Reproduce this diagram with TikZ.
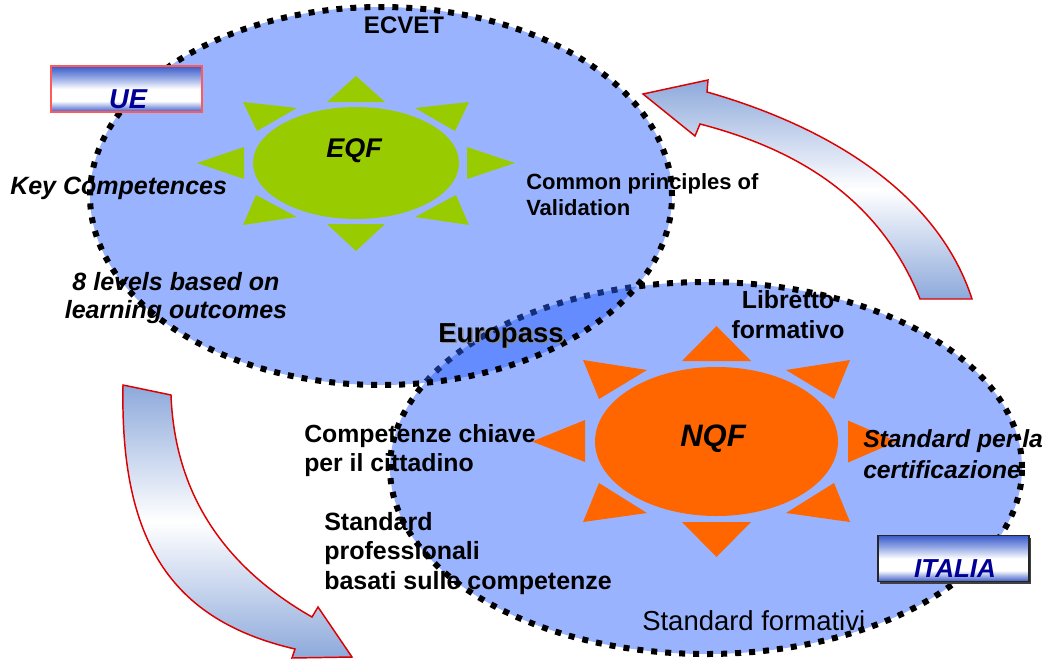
\documentclass[tikz,border=0pt]{standalone}
\usepackage{fontspec}
\setmainfont{Liberation Sans}
\usetikzlibrary{shapes.geometric,shadows}

\definecolor{ovalblue}{RGB}{42,97,255}
\definecolor{eqfgreen}{RGB}{153,204,0}
\definecolor{nqforange}{RGB}{255,102,0}
\definecolor{arrowblue}{RGB}{141,169,219}
\definecolor{arrowred}{RGB}{220,0,0}
\definecolor{boxblue}{RGB}{58,90,200}
\definecolor{boxmid}{RGB}{150,170,230}
\definecolor{flagnavy}{RGB}{0,0,150}
\definecolor{flagpink}{RGB}{255,90,90}

% blue -> white band -> blue, for the two flag boxes
\pgfdeclareverticalshading{flagshade}{100bp}{color(0bp)=(boxblue); color(25bp)=(boxblue); color(37bp)=(white); color(50bp)=(white); color(62bp)=(boxmid); color(75bp)=(boxblue); color(100bp)=(boxblue)}

\newcommand{\lblfont}[1]{\fontsize{#1}{#1}\selectfont\bfseries}

\tikzset{
  oval/.style={ellipse, inner sep=0pt, draw=black, line width=4.5pt,
    dash pattern=on 4.5pt off 6pt, fill=ovalblue, fill opacity=0.48, draw opacity=1},
  bentarrow/.style={draw=arrowred, line width=1.1pt, line join=miter,
    top color=arrowblue, bottom color=arrowblue, middle color=white},
  flagbox/.style={inner sep=0pt, minimum width=113.25pt, minimum height=34.5pt,
    shade, shading=flagshade, line width=1pt},
  lbl/.style={inner sep=0pt, text=black},
}

\begin{document}
\begin{tikzpicture}[x=0.75pt, y=-0.75pt]
\useasboundingbox (0,0) rectangle (1048,661);

% the two overlapping frameworks: Italy underneath, EU on top
\node[oval, minimum width=474pt, minimum height=279pt] (italia) at (706,468) {};
\node[oval, minimum width=436.5pt, minimum height=283.5pt] (ue) at (381,196) {};

% bent arrows between the two levels
\draw[bentarrow] (707,92) .. controls (840,130) and (940,200) .. (972,299)
  -- (920,299) .. controls (880,200) and (800,150) .. (700,124)
  -- (695,136) -- (643,94) -- (708,80) -- cycle;
\draw[bentarrow] (123,385) -- (171,395) .. controls (175,500) and (230,570) .. (312,617)
  -- (318,607) -- (352,657) -- (292,658) -- (295,649)
  .. controls (170,620) and (120,540) .. (123,385) -- cycle;

% EQF sun
\node[ellipse, inner sep=0pt, fill=eqfgreen, minimum width=154.5pt, minimum height=84pt] (eqf) at (356,163) {};
\begin{scope}[shift={(356,163)}, fill=eqfgreen]
  \fill (-29,-61) -- (29,-61) -- (0,-87) -- cycle;
  \fill (-29,61) -- (29,61) -- (0,88) -- cycle;
  \fill (-112,-16) -- (-112,16) -- (-159,0) -- cycle;
  \fill (111,-16) -- (111,16) -- (159,0) -- cycle;
  \fill (-113,-61) -- (-59,-55) -- (-99,-32) -- cycle;
  \fill (113,-61) -- (59,-55) -- (99,-32) -- cycle;
  \fill (-113,62) -- (-59,54) -- (-100,32) -- cycle;
  \fill (113,62) -- (59,54) -- (100,32) -- cycle;
\end{scope}

% NQF sun
\node[ellipse, inner sep=0pt, fill=nqforange, minimum width=182.25pt, minimum height=111.75pt] (nqf) at (716.5,441.5) {};
\begin{scope}[shift={(716.5,441.5)}, fill=nqforange]
  \fill (-34.5,-80.5) -- (34.5,-80.5) -- (0,-115.5) -- cycle;
  \fill (-34.5,80.5) -- (34.5,80.5) -- (0,115.5) -- cycle;
  \fill (-131.5,-21.5) -- (-131.5,20.5) -- (-184.5,0) -- cycle;
  \fill (131.5,-21) -- (131.5,21) -- (180,0) -- cycle;
  \fill (-133.5,-81.5) -- (-69.5,-71.5) -- (-117.5,-42.5) -- cycle;
  \fill (133.5,-81.5) -- (69.5,-71.5) -- (117.5,-42.5) -- cycle;
  \fill (-133.5,80.5) -- (-69.5,71.5) -- (-117.5,41.5) -- cycle;
  \fill (133.5,80.5) -- (69.5,71.5) -- (117.5,41.5) -- cycle;
\end{scope}

% flag boxes
\node[flagbox, draw=flagpink] (uebox) at (126.5,89) {};
\node[flagbox, draw=black!85, drop shadow={shadow xshift=1.5pt, shadow yshift=-1.5pt, fill=black!75, opacity=1}] (itbox) at (953.5,558.5) {};
\node[lbl, anchor=base, text=flagnavy, font=\lblfont{20.5pt}\itshape] (uetxt) at (128,108) {UE};
\node[lbl, anchor=base, text=flagnavy, font=\lblfont{19.5pt}\itshape] (ittxt) at (955,577) {ITALIA};

% framework labels
\node[lbl, anchor=base, font=\lblfont{20.25pt}\itshape] (eqftxt) at (354,157) {EQF};
\node[lbl, anchor=base, font=\lblfont{23.25pt}\itshape] (nqftxt) at (713,446) {NQF};

% EU side
\node[lbl, anchor=base, font=\lblfont{18pt}] (ecvet) at (404,33) {ECVET};
\node[lbl, anchor=base west, font=\lblfont{18.75pt}\itshape] (keyc) at (10,194) {Key Competences};
\node[lbl, anchor=base, font=\lblfont{18.75pt}\itshape] (lev1) at (176,290) {8 levels based on};
\node[lbl, anchor=base, font=\lblfont{18.75pt}\itshape] (lev2) at (176,318) {learning outcomes};
\node[lbl, anchor=base west, font=\lblfont{16.5pt}] (val1) at (526,189) {Common principles of};
\node[lbl, anchor=base west, font=\lblfont{16.5pt}] (val2) at (526,215) {Validation};

% shared
\node[lbl, anchor=base, text=black!45, font=\lblfont{20.6pt}] (europassshadow) at (502.5,343.5) {Europass};
\node[lbl, anchor=base, font=\lblfont{20.6pt}] (europass) at (501,342) {Europass};

% Italian side
\node[lbl, anchor=base, font=\lblfont{18.6pt}] (lib1) at (788,308) {Libretto};
\node[lbl, anchor=base, font=\lblfont{18.6pt}] (lib2) at (788,338) {formativo};
\node[lbl, anchor=base west, font=\lblfont{18.6pt}] (cc1) at (304,442) {Competenze chiave};
\node[lbl, anchor=base west, font=\lblfont{18.6pt}] (cc2) at (304,471) {per il cittadino};
\node[lbl, anchor=base west, font=\lblfont{18.75pt}] (sp1) at (324,530) {Standard};
\node[lbl, anchor=base west, font=\lblfont{18.75pt}] (sp2) at (324,559) {professionali};
\node[lbl, anchor=base west, font=\lblfont{18.75pt}] (sp3) at (324,589) {basati sulle competenze};
\node[lbl, anchor=base west, font=\lblfont{18.5pt}\itshape] (cert1) at (863,447) {Standard per la};
\node[lbl, anchor=base west, font=\lblfont{18.5pt}\itshape] (cert2) at (863,478) {certificazione};
\node[lbl, anchor=base west, font=\fontsize{20.6pt}{20.6pt}\selectfont] (sform) at (642,630) {Standard formativi};
\end{tikzpicture}
\end{document}
